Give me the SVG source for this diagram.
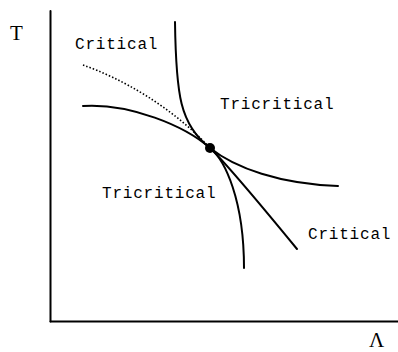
<svg xmlns="http://www.w3.org/2000/svg" width="398" height="352" viewBox="0 0 398 352">
<style>
.ln{fill:none;stroke:#000;stroke-width:2;stroke-linecap:round}
.dot{fill:none;stroke:#000;stroke-width:1.6;stroke-dasharray:1.5 2}
.lbl{font-family:"Liberation Mono","Courier New",monospace;font-size:16px;letter-spacing:0.8px;fill:#000}
.ax{font-family:"Liberation Serif","Times New Roman",serif;font-size:21px;fill:#000}
</style>
<rect width="398" height="352" fill="#fff"/>
<g id="axes">
<line class="ln" x1="50.5" y1="11" x2="50.5" y2="321.5"/>
<line class="ln" x1="50.5" y1="321.5" x2="398" y2="321.5"/>
<text class="ax" x="10" y="40">T</text>
<text class="ax" x="369" y="347">Λ</text>
</g>
<g id="curves">
<path class="ln" d="M175,22 C176,95 180,125 210,148 C225,160 244,200 244,268"/>
<path class="ln" d="M83,106 C130,103 185,126 210,148 C235,168 280,184 338,186"/>
<path class="dot" d="M83,65 C120,78 170,105 210,148"/>
<path class="ln" d="M210,148 C225,162 265,210 297,249"/>
</g>
<g id="point"><circle cx="210" cy="148" r="5" fill="#000"/></g>
<g id="labels">
<text class="lbl" x="75" y="49">Critical</text>
<text class="lbl" x="220" y="109">Tricritical</text>
<text class="lbl" x="102" y="198">Tricritical</text>
<text class="lbl" x="308" y="239">Critical</text>
</g>
</svg>
